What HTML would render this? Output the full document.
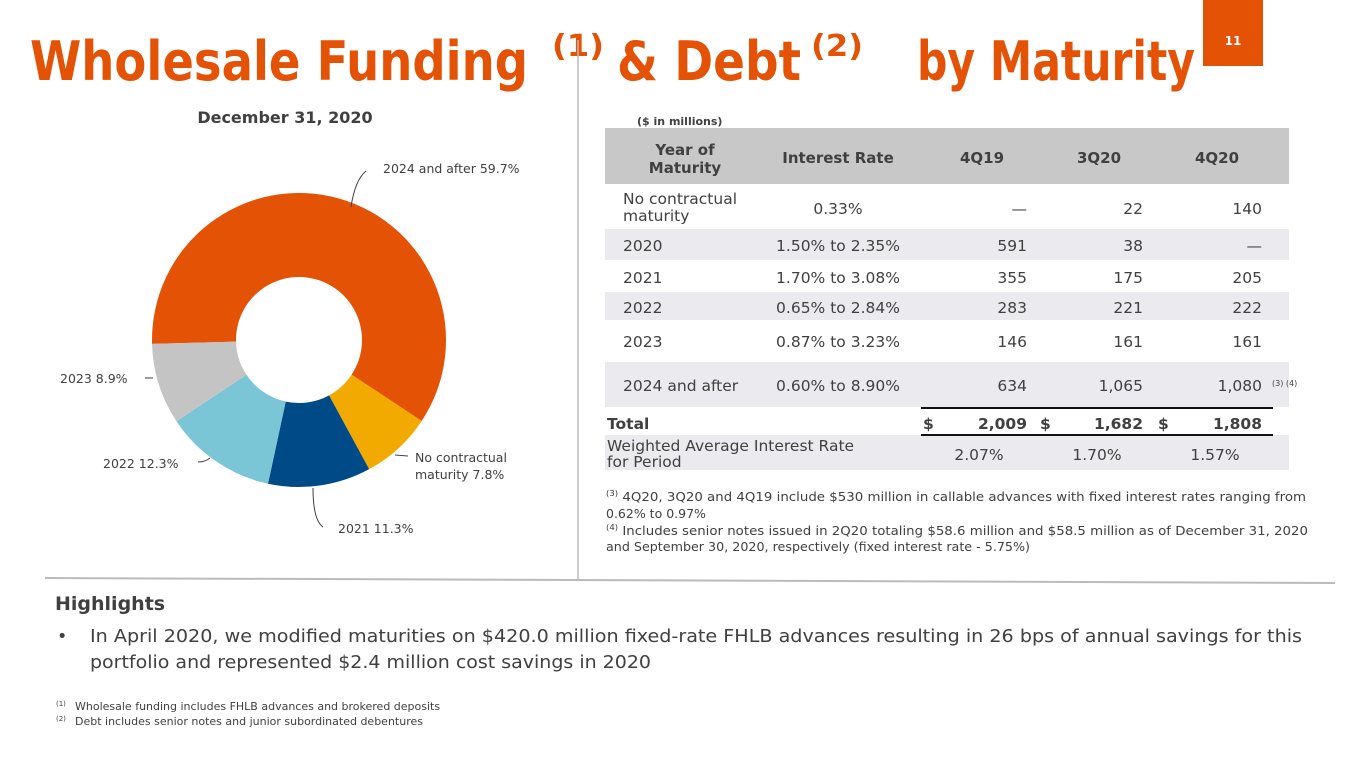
<!DOCTYPE html>
<html><head><meta charset="utf-8"><style>
html,body{margin:0;padding:0;background:#fff;}
svg{display:block;font-family:"DejaVu Sans","Liberation Sans",sans-serif;}
</style></head><body>
<svg width="1365" height="768" viewBox="0 0 1365 768" xmlns="http://www.w3.org/2000/svg">
<!-- title -->
<g fill="#E35205" font-weight="bold">
<text x="30" y="80" font-size="54" textLength="498" lengthAdjust="spacingAndGlyphs">Wholesale Funding</text>
<text x="552" y="56" font-size="30" textLength="52" lengthAdjust="spacingAndGlyphs">(1)</text>
<text x="617" y="80" font-size="54" textLength="184" lengthAdjust="spacingAndGlyphs">&amp; Debt</text>
<text x="811" y="56" font-size="30" textLength="52" lengthAdjust="spacingAndGlyphs">(2)</text>
<text x="917" y="80" font-size="54" textLength="278" lengthAdjust="spacingAndGlyphs">by Maturity</text>
</g>
<rect x="1203" y="0" width="60" height="66" fill="#E35205"/>
<text x="1233" y="45" font-size="12" fill="#fff" text-anchor="middle" font-weight="bold">11</text>
<!-- separators -->
<line x1="578" y1="40" x2="578" y2="579" stroke="#bbb" stroke-width="1.5"/>
<line x1="45" y1="578" x2="1335" y2="583" stroke="#bbb" stroke-width="2"/>
<!-- donut -->
<text x="285" y="123" font-size="16" font-weight="bold" fill="#404040" text-anchor="middle">December 31, 2020</text>
<g id="donut"></g>
<g fill="none" stroke="#404040" stroke-width="1">
<path d="M351,207 Q355,180 366,171"/>
<path d="M145,378 L153,378"/>
<path d="M198,462 Q205,462 210,458"/>
<path d="M395,455 L408,456"/>
<path d="M313,488 Q313,520 323,527"/>
</g>
<g font-size="12.5" fill="#404040">
<text x="383" y="173">2024 and after 59.7%</text>
<text x="60" y="383">2023 8.9%</text>
<text x="103" y="468">2022 12.3%</text>
<text x="415" y="462">No contractual</text>
<text x="415" y="479">maturity 7.8%</text>
<text x="338" y="533">2021 11.3%</text>
</g>
<!-- table -->
<text x="637" y="125" font-size="11" font-weight="bold" fill="#404040">($ in millions)</text>
<rect x="605" y="128" width="684" height="56" fill="#C8C8C8"/>
<rect x="605" y="229" width="684" height="31" fill="#EBEBEF"/>
<rect x="605" y="292" width="684" height="28" fill="#EBEBEF"/>
<rect x="605" y="362" width="684" height="45" fill="#EBEBEF"/>
<rect x="605" y="435" width="684" height="35" fill="#EBEBEF"/>
<line x1="921" y1="408" x2="1273" y2="408" stroke="#111" stroke-width="2"/>
<line x1="921" y1="435" x2="1273" y2="435" stroke="#111" stroke-width="2"/>
<g font-size="15" font-weight="bold" fill="#404040" text-anchor="middle">
<text x="685" y="155">Year of</text>
<text x="685" y="173">Maturity</text>
<text x="838" y="163">Interest Rate</text>
<text x="982" y="163">4Q19</text>
<text x="1099" y="163">3Q20</text>
<text x="1217" y="163">4Q20</text>
</g>
<g font-size="15.5" fill="#404040">
<text x="623" y="204">No contractual</text>
<text x="623" y="221">maturity</text>
<text x="623" y="251">2020</text>
<text x="623" y="283">2021</text>
<text x="623" y="313">2022</text>
<text x="623" y="347">2023</text>
<text x="623" y="391">2024 and after</text>
<g text-anchor="middle">
<text x="838" y="214">0.33%</text>
<text x="838" y="251">1.50% to 2.35%</text>
<text x="838" y="283">1.70% to 3.08%</text>
<text x="838" y="313">0.65% to 2.84%</text>
<text x="838" y="347">0.87% to 3.23%</text>
<text x="838" y="391">0.60% to 8.90%</text>
</g>
<g text-anchor="end">
<text x="1027" y="214">—</text><text x="1143" y="214">22</text><text x="1262" y="214">140</text>
<text x="1027" y="251">591</text><text x="1143" y="251">38</text><text x="1262" y="251">—</text>
<text x="1027" y="283">355</text><text x="1143" y="283">175</text><text x="1262" y="283">205</text>
<text x="1027" y="313">283</text><text x="1143" y="313">221</text><text x="1262" y="313">222</text>
<text x="1027" y="347">146</text><text x="1143" y="347">161</text><text x="1262" y="347">161</text>
<text x="1027" y="391">634</text><text x="1143" y="391">1,065</text><text x="1262" y="391">1,080</text>
</g>
<text x="607" y="451">Weighted Average Interest Rate</text>
<text x="607" y="467">for Period</text>
<g text-anchor="middle">
<text x="979" y="460">2.07%</text><text x="1097" y="460">1.70%</text><text x="1215" y="460">1.57%</text>
</g>
</g>
<text x="1272" y="386" font-size="8" fill="#404040">(3) (4)</text>
<g font-size="15.5" font-weight="bold" fill="#404040">
<text x="607" y="429">Total</text>
<text x="923" y="429">$</text><text x="1027" y="429" text-anchor="end">2,009</text>
<text x="1040" y="429">$</text><text x="1143" y="429" text-anchor="end">1,682</text>
<text x="1158" y="429">$</text><text x="1262" y="429" text-anchor="end">1,808</text>
</g>
<!-- notes -->
<g font-size="12.5" fill="#404040">
<text x="606" y="501" textLength="700" lengthAdjust="spacingAndGlyphs"><tspan font-size="8" dy="-5">(3)</tspan><tspan dy="5"> 4Q20, 3Q20 and 4Q19 include $530 million in callable advances with fixed interest rates ranging from</tspan></text>
<text x="606" y="518">0.62% to 0.97%</text>
<text x="606" y="535" textLength="702" lengthAdjust="spacingAndGlyphs"><tspan font-size="8" dy="-5">(4)</tspan><tspan dy="5"> Includes senior notes issued in 2Q20 totaling $58.6 million and $58.5 million as of December 31, 2020</tspan></text>
<text x="606" y="551" textLength="424" lengthAdjust="spacingAndGlyphs">and September 30, 2020, respectively (fixed interest rate - 5.75%)</text>
</g>
<!-- highlights -->
<text x="55" y="610" font-size="19" font-weight="bold" fill="#404040">Highlights</text>
<g font-size="17.5" fill="#404040">
<text x="57" y="642">•</text>
<text x="90" y="642" textLength="1212" lengthAdjust="spacingAndGlyphs">In April 2020, we modified maturities on $420.0 million fixed-rate FHLB advances resulting in 26 bps of annual savings for this</text>
<text x="90" y="668" textLength="561" lengthAdjust="spacingAndGlyphs">portfolio and represented $2.4 million cost savings in 2020</text>
</g>
<g font-size="11" fill="#404040">
<text x="56" y="710"><tspan font-size="7" dy="-4">(1)</tspan><tspan dy="4" x="75">Wholesale funding includes FHLB advances and brokered deposits</tspan></text>
<text x="56" y="725"><tspan font-size="7" dy="-4">(2)</tspan><tspan dy="4" x="75">Debt includes senior notes and junior subordinated debentures</tspan></text>
</g>
</svg>
<script>
(function(){
var cx=299,cy=340,R=147,r=63;
var segs=[[59.7,"#E35205"],[7.8,"#F2A900"],[11.3,"#004B87"],[12.3,"#7AC5D6"],[8.9,"#C4C4C4"]];
var a=-91.5,g=document.getElementById("donut"),ns="http://www.w3.org/2000/svg";
function pt(rad,deg){var t=deg*Math.PI/180;return [cx+rad*Math.sin(t),cy-rad*Math.cos(t)];}
segs.forEach(function(s){
 var b=a+s[0]*3.6,l=(b-a)>180?1:0;
 var p1=pt(R,a),p2=pt(R,b),p3=pt(r,b),p4=pt(r,a);
 var d="M"+p1+"A"+R+","+R+" 0 "+l+" 1 "+p2+"L"+p3+"A"+r+","+r+" 0 "+l+" 0 "+p4+"Z";
 var e=document.createElementNS(ns,"path");e.setAttribute("d",d);e.setAttribute("fill",s[1]);g.appendChild(e);
 a=b;});
})();
</script>
</body></html>
